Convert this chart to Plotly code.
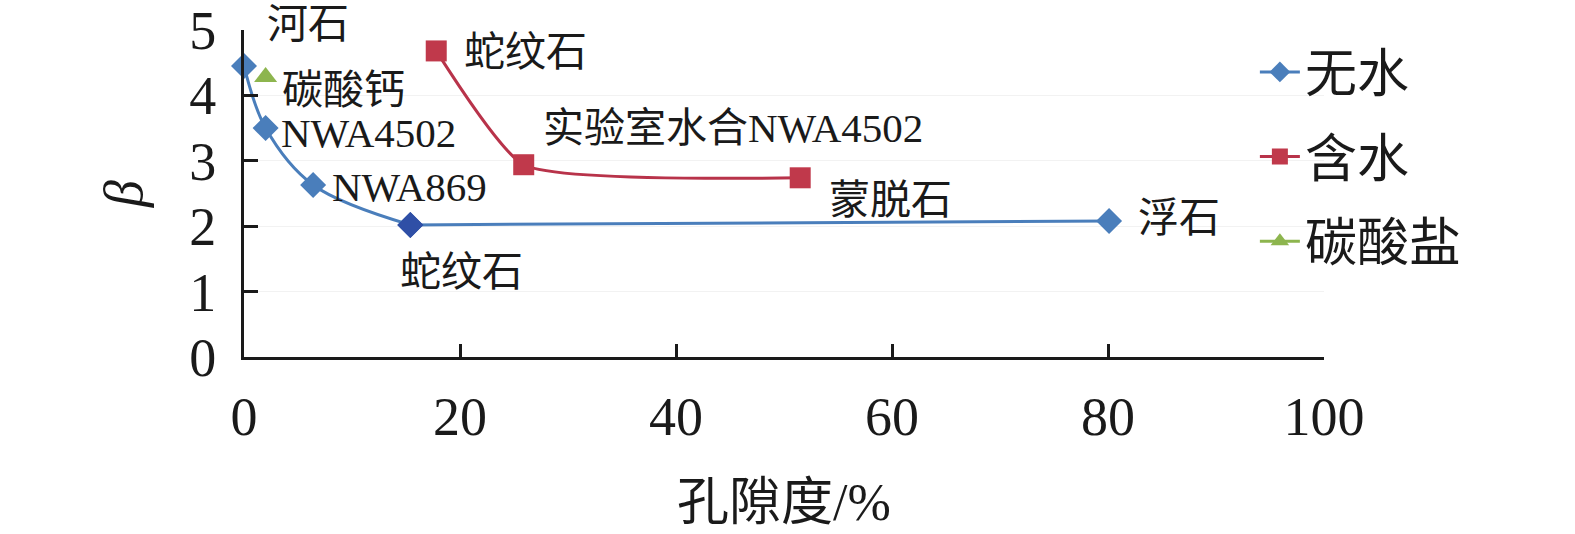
import plotly.graph_objects as go

# Data
anhydrous_x = [0, 2, 6.4, 15.4, 80.1]
anhydrous_y = [4.45, 3.50, 2.63, 2.02, 2.08]
hydrous_x = [17.8, 25.9, 51.5]
hydrous_y = [4.68, 2.94, 2.74]
carbonate_x = [2.0]
carbonate_y = [4.28]

series_names = ["无水", "含水", "碳酸盐"]

label_texts = ["河石", "碳酸钙", "NWA4502", "NWA869", "蛇纹石", "蛇纹石",
               "实验室水合NWA4502", "蒙脱石", "浮石"]
label_x = [1.95, 3.3, 3.2, 8.0, 14.3, 20.2, 27.5, 54.0, 82.6]
label_y = [5.0, 4.08, 3.42, 2.60, 1.30, 4.66, 3.50, 2.40, 2.12]
label_shift = [6, 0, 0, 0, 0, 0, 0, 0, 0]

x_ticks = [0, 20, 40, 60, 80, 100]
y_ticks = [0, 1, 2, 3, 4, 5]

FONT = "Liberation Serif, Noto Sans CJK SC, serif"
INK = "#1a1a1a"
BLUE = "#4a7ebb"

fig = go.Figure()
# flat tail of the anhydrous curve (no legend entry)
fig.add_trace(go.Scatter(
    x=anhydrous_x[3:], y=anhydrous_y[3:], name=series_names[0], mode="lines+markers",
    legendgroup="a", showlegend=False,
    line=dict(color=BLUE, width=3, shape="spline", smoothing=0.2),
    marker=dict(symbol="diamond", size=20, color=["#2f4fa6", BLUE]),
    cliponaxis=False))
fig.add_trace(go.Scatter(
    x=anhydrous_x[:4], y=anhydrous_y[:4], name=series_names[0], mode="lines+markers",
    legendgroup="a",
    line=dict(color=BLUE, width=3, shape="spline", smoothing=1.0),
    marker=dict(symbol="diamond", size=20, color=[BLUE, BLUE, BLUE, "#2f4fa6"]),
    cliponaxis=False))
fig.add_trace(go.Scatter(
    x=hydrous_x, y=hydrous_y, name=series_names[1], mode="lines+markers",
    legendgroup="b",
    line=dict(color="#b8334a", width=3, shape="spline", smoothing=0.5),
    marker=dict(symbol="square", size=21, color="#c0394b"),
    cliponaxis=False))
fig.add_trace(go.Scatter(
    x=carbonate_x, y=carbonate_y, name=series_names[2], mode="lines+markers",
    legendgroup="c",
    line=dict(color="#8db54e", width=3),
    marker=dict(symbol="triangle-up", size=20, color="#8db54e"),
    cliponaxis=False))

for t, xx, yy, ys in zip(label_texts, label_x, label_y, label_shift):
    fig.add_annotation(x=xx, y=yy, text=t, showarrow=False, xanchor="left",
                       yanchor="middle", yshift=ys,
                       font=dict(family=FONT, size=41, color=INK))

fig.update_layout(
    width=1575, height=534,
    margin=dict(l=244, r=251, t=30, b=177),
    paper_bgcolor="white", plot_bgcolor="white",
    font=dict(family=FONT, color=INK),
    showlegend=True,
    legend=dict(x=0.936, y=0.995, xanchor="left", yanchor="top",
                font=dict(family=FONT, size=52, color=INK),
                bgcolor="rgba(0,0,0,0)", tracegroupgap=14, itemwidth=40),
)
fig.update_xaxes(
    range=[0, 100], tickvals=x_ticks, ticks="inside", ticklen=13, tickwidth=3,
    tickcolor=INK, showline=True, linecolor=INK, linewidth=3,
    showgrid=False, zeroline=False, automargin=False, ticklabelstandoff=10,
    tickfont=dict(family=FONT, size=54, color=INK),
    title=dict(text="孔隙度/%", font=dict(family=FONT, size=52, color=INK), standoff=38),
)
fig.update_yaxes(
    range=[0, 5], tickvals=y_ticks, ticks="inside", ticklen=14, tickwidth=3,
    tickcolor=INK, showline=True, linecolor=INK, linewidth=3,
    showgrid=True, gridcolor="#f2f2f2", gridwidth=1, zeroline=False,
    automargin=False, ticklabelstandoff=14,
    tickfont=dict(family=FONT, size=54, color=INK),
    title=dict(text="<i>β</i>", font=dict(family=FONT, size=54, color=INK), standoff=30),
)

fig.write_html("out.html", config={"displayModeBar": False},
               post_script="document.body.style.margin='0px';")
